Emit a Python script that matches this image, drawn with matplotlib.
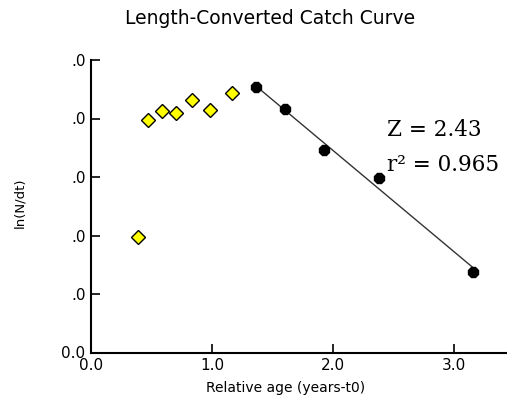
import numpy as np
import matplotlib.pyplot as plt

# values (y in tick units)
age_open = [0.386, 0.474, 0.589, 0.705, 0.837, 0.981, 1.165]
lnN_open = [1.98, 3.97, 4.12, 4.10, 4.32, 4.15, 4.43]
age_used = [1.361, 1.603, 1.926, 2.383, 3.154]
lnN_used = [4.53, 4.17, 3.47, 2.98, 1.38]

xticks = [0, 1, 2, 3]
xticklabels = ['0.0', '1.0', '2.0', '3.0']
yticks = [0, 1, 2, 3, 4, 5]
yticklabels = ['0.0', '.0', '.0', '.0', '.0', '.0']

plt.rcParams['font.family'] = ['DejaVu Sans']

fig = plt.figure(figsize=(5.07, 4.01), dpi=100)
ax = fig.add_axes([91 / 507, 48.5 / 401, 1 - 91 / 507, 292.5 / 401])

# regression on the black points
slope, intercept = np.polyfit(age_used, lnN_used, 1)
xf = np.array([age_used[0], age_used[-1]])
ax.plot(xf, slope * xf + intercept, color='#333333', lw=1.0, zorder=2)

ax.plot(age_open, lnN_open, linestyle='none', marker='D', markersize=7.5,
        markerfacecolor='#ffff00', markeredgecolor='black', markeredgewidth=1.0, zorder=3)
ax.plot(age_used, lnN_used, linestyle='none', marker='8', markersize=8.5,
        markerfacecolor='black', markeredgecolor='black', zorder=3)

ax.set_xlim(0, 416 / 121)
ax.set_ylim(0, 5)
ax.set_xticks(xticks)
ax.set_xticklabels(xticklabels)
ax.set_yticks(yticks)
ax.set_yticklabels(yticklabels)
ax.tick_params(direction='in', length=6.5, width=1.2, labelsize=11, pad=4)

for s in ['top', 'right']:
    ax.spines[s].set_visible(False)
for s in ['left', 'bottom']:
    ax.spines[s].set_linewidth(1.5)

fig.text(286 / 507, 1 - 388 / 401, 'Relative age (years-t0)', ha='center', va='center', fontsize=10)
fig.text(20 / 507, 1 - 203 / 401, 'ln(N/dt)', ha='center', va='center', fontsize=9.5, rotation=90)

fig.text(270 / 507, 1 - 18 / 401, 'Length-Converted Catch Curve', ha='center', va='center', fontsize=13.5)

ax.text(387, 401 - 130, 'Z = 2.43', transform=None, fontsize=15.5, family='DejaVu Serif', va='center', ha='left')
ax.text(387, 401 - 165, 'r² = 0.965', transform=None, fontsize=15.5, family='DejaVu Serif', va='center', ha='left')

fig.savefig('out.png', dpi=100)
